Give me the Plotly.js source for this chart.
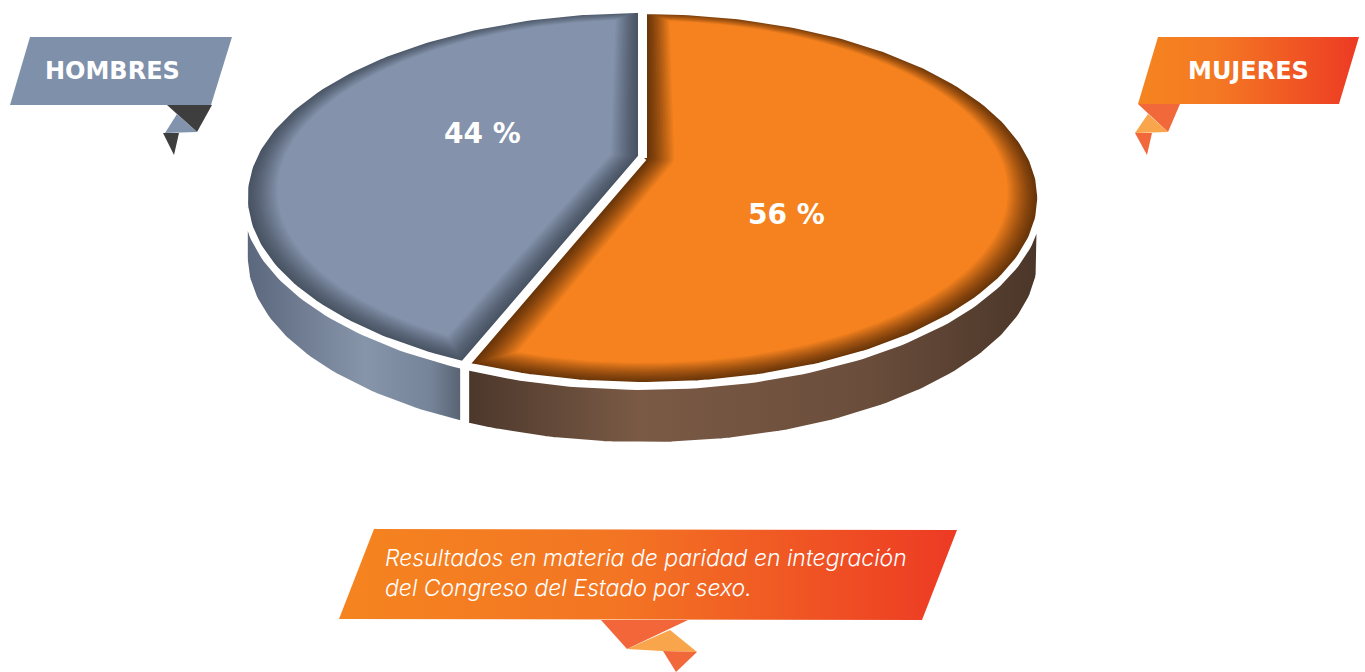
<!DOCTYPE html>
<html><head><meta charset="utf-8">
<script src="https://cdn.plot.ly/plotly-3.0.1.min.js"></script>
<style>html,body{margin:0;padding:0;background:#fff;}#chart{width:1365px;height:672px;}</style>
</head><body><div id="chart"></div>
<script>
// ---------------- data ----------------
const categories = ['HOMBRES', 'MUJERES'];
const values = [44, 56];
const valueLabels = ['44 %', '56 %'];
const captionLines = ['Resultados en materia de paridad en integración', 'del Congreso del Estado por sexo.'];

// ---------------- style ----------------
const W = 1365, H = 672;
const view = {cx: 641, cy: 157, h: 387, s: 178.4, k: 0.214, depth: 60, sideGap: 2, startAngle: 90};
const topColors = [{edge: '#465160', main: '#8492ab'}, {edge: '#643208', main: '#f5821f'}];
const sideScales = [
  [[0, '#5a667b'], [0.55, '#8795ab'], [0.85, '#76849a'], [1, '#56616f']],
  [[0, '#4b372b'], [0.3, '#7a5a45'], [0.7, '#6a4d3b'], [1, '#4a3629']]
];
const explode = [[0, 0], [3, 1]];
const labelNudge = [[10, -9], [-32, 41]];
const insetMax = 0.078, insetSteps = 18, shadePower = 1.35;
const rimWidth = 6;
const labelFont = {family: 'DejaVu Sans', size: 28, color: '#ffffff', weight: 700};
const bannerFont = {family: 'DejaVu Sans', size: 24, color: '#ffffff', weight: 700};
const captionFont = {family: 'Inter', size: 23, color: '#ffffff', weight: 300, style: 'italic'};

// decorative ribbons (layout geometry, pixel space)
const decor = [
  {pts: [[30,37],[232,37],[211,105],[10,105]], color: '#7f90aa'},
  {pts: [[167,105],[212,105],[197,132]], color: '#3e3e3e'},
  {pts: [[165,133],[177,114],[197,132]], color: '#8293ad'},
  {pts: [[163,133],[179,133],[174,155]], color: '#3e3e3e'},
  {pts: [[1158,37],[1359,37],[1339,104],[1138,104]], grad: [[0,'#f5841f'],[0.35,'#f47923'],[1,'#ed3a24']]},
  {pts: [[1138,104],[1180,104],[1168,132]], color: '#f1683b'},
  {pts: [[1135,133],[1148,114],[1168,132]], color: '#f9a54b'},
  {pts: [[1135,133],[1152,133],[1147,155]], color: '#f1683b'},
  {pts: [[374,529],[957,530],[922,620],[339,619]], grad: [[0,'#f5841f'],[0.45,'#f37523'],[1,'#ed3a24']]},
  {pts: [[601,620],[688,620],[627,649]], color: '#f2663a'},
  {pts: [[627,649],[670,630],[697,652],[662,651]], color: '#f9a54b'},
  {pts: [[663,651],[697,652],[676,672]], color: '#f1683b'}
];

// ---------------- helpers ----------------
const rad = d => d * Math.PI / 180;
function proj(X, Y, off) {
  const d = 1 + view.k * Y;
  return [view.cx + view.h * X / d + off[0], view.cy - view.s * Y / d + off[1]];
}
function arc(r, aFrom, aTo) {
  const pts = [];
  const n = Math.max(2, Math.ceil(Math.abs(aTo - aFrom)));
  for (let i = 0; i <= n; i++) {
    const a = rad(aFrom + (aTo - aFrom) * i / n);
    pts.push([r * Math.cos(a), r * Math.sin(a)]);
  }
  return pts;
}
function sectorPlane(a1, a2, eps) {
  const S = a2 - a1;
  if (eps === 0) return [[0, 0]].concat(arc(1, a1, a2)).concat([[0, 0]]);
  const R = 1 - eps;
  const t = Math.sqrt(R * R - eps * eps);
  const da = Math.atan2(eps, t) * 180 / Math.PI;
  let pts = [];
  if (S < 180) {
    const vr = eps / Math.sin(rad(S / 2));
    const bm = rad(a1 + S / 2);
    const V = [vr * Math.cos(bm), vr * Math.sin(bm)];
    pts = [V].concat(arc(R, a1 + da, a2 - da)).concat([V]);
  } else {
    pts = arc(eps, a2 - 90, a1 + 90).concat(arc(R, a1 + da, a2 - da));
    pts.push(pts[0]);
  }
  return pts;
}
function mix(c1, c2, t) {
  const p = c => [1, 3, 5].map(i => parseInt(c.slice(i, i + 2), 16));
  const a = p(c1), b = p(c2);
  return 'rgb(' + a.map((v, i) => Math.round(v + (b[i] - v) * t)).join(',') + ')';
}
function overlap(a1, a2, lo, hi) {
  for (const sh of [-360, 0, 360]) {
    const l = Math.max(a1, lo + sh), h = Math.min(a2, hi + sh);
    if (h > l) return [l, h];
  }
  return null;
}

// ---------------- build ----------------
const traces = [];
decor.forEach(d => {
  const xs = d.pts.map(p => p[0]).concat([d.pts[0][0]]);
  const ys = d.pts.map(p => p[1]).concat([d.pts[0][1]]);
  const tr = {type: 'scatter', mode: 'lines', x: xs, y: ys, fill: 'toself', line: {width: 0, color: 'rgba(0,0,0,0)'}, hoverinfo: 'skip', showlegend: false};
  if (d.grad) {
    tr.fillgradient = {type: 'horizontal', colorscale: d.grad, start: Math.min(...xs), stop: Math.max(...xs)};
  } else tr.fillcolor = d.color;
  traces.push(tr);
});

const total = values.reduce((a, b) => a + b, 0);
const slices = [];
let acc = view.startAngle;
values.forEach((v, i) => {
  const a1 = acc, a2 = acc + 360 * v / total;
  slices.push({a1, a2});
  acc = a2;
});

// sides
const tAng = Math.asin(view.k) * 180 / Math.PI;
const visLo = 180 + tAng, visHi = 360 - tAng;
slices.forEach((sl, i) => {
  const ov = overlap(sl.a1, sl.a2, visLo, visHi);
  if (!ov) return;
  const off = explode[i];
  const top = arc(1, ov[0], ov[1]).map(p => proj(p[0], p[1], [off[0], off[1] + view.sideGap]));
  const bot = arc(1, ov[1], ov[0]).map(p => proj(p[0], p[1], [off[0], off[1] + view.depth]));
  const pts = top.concat(bot);
  pts.push(pts[0]);
  const xs = pts.map(p => p[0]), ys = pts.map(p => p[1]);
  traces.push({type: 'scatter', mode: 'lines', x: xs, y: ys, fill: 'toself',
    fillgradient: {type: 'horizontal', colorscale: sideScales[i], start: Math.min(...xs), stop: Math.max(...xs)},
    line: {width: rimWidth, color: '#ffffff'}, hoverinfo: 'skip', showlegend: false, name: categories[i]});
});

// top faces with inner shading
slices.forEach((sl, i) => {
  const off = explode[i];
  for (let j = 0; j <= insetSteps; j++) {
    const tt = j / insetSteps;
    const eps = insetMax * tt;
    const col = mix(topColors[i].edge, topColors[i].main, Math.pow(tt, shadePower));
    const pts = sectorPlane(sl.a1, sl.a2, eps).map(p => proj(p[0], p[1], off));
    traces.push({type: 'scatter', mode: 'lines', x: pts.map(p => p[0]), y: pts.map(p => p[1]),
      fill: 'toself', fillcolor: col, line: {width: 0, color: col}, hoverinfo: 'skip', showlegend: false});
  }
});
// white rims
slices.forEach((sl, i) => {
  const pts = sectorPlane(sl.a1, sl.a2, 0).map(p => proj(p[0], p[1], explode[i]));
  traces.push({type: 'scatter', mode: 'lines', x: pts.map(p => p[0]), y: pts.map(p => p[1]),
    line: {width: rimWidth, color: '#ffffff', shape: 'linear'}, hoverinfo: 'skip', showlegend: false});
});

// annotations
const annotations = [];
slices.forEach((sl, i) => {
  const m = rad((sl.a1 + sl.a2) / 2);
  const p = proj(0.45 * Math.cos(m), 0.45 * Math.sin(m), explode[i]);
  annotations.push({x: p[0] + labelNudge[i][0], y: p[1] + labelNudge[i][1], xref: 'x', yref: 'y',
    text: valueLabels[i], showarrow: false, font: labelFont, xanchor: 'center', yanchor: 'middle'});
});
annotations.push({x: 112, y: 71, xref: 'x', yref: 'y', text: categories[0], showarrow: false, font: bannerFont, xanchor: 'center', yanchor: 'middle'});
annotations.push({x: 1248, y: 71, xref: 'x', yref: 'y', text: categories[1], showarrow: false, font: bannerFont, xanchor: 'center', yanchor: 'middle'});
annotations.push({x: 383, y: 573, xref: 'x', yref: 'y', text: captionLines.join('<br>'), showarrow: false, font: captionFont, xanchor: 'left', yanchor: 'middle', align: 'left'});

const layout = {
  width: W, height: H, margin: {l: 0, r: 0, t: 0, b: 0},
  paper_bgcolor: '#ffffff', plot_bgcolor: '#ffffff',
  xaxis: {range: [0, W], visible: false, fixedrange: true},
  yaxis: {range: [H, 0], visible: false, fixedrange: true},
  showlegend: false, hovermode: false, annotations: annotations
};
Plotly.newPlot('chart', traces, layout, {displayModeBar: false, staticPlot: true});
</script></body></html>
